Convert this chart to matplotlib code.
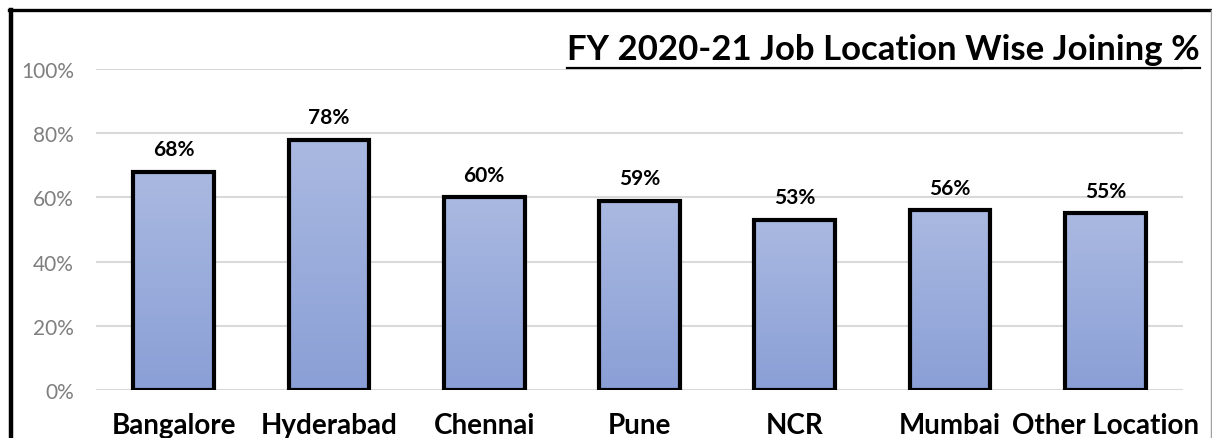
import numpy as np
import matplotlib.pyplot as plt
from matplotlib.lines import Line2D
from matplotlib.colors import LinearSegmentedColormap

plt.rcParams['font.family'] = ['Lato', 'DejaVu Sans']

# Chart data
locations = ["Bangalore", "Hyderabad", "Chennai", "Pune", "NCR", "Mumbai", "Other Location"]
joining_pct = [0.68, 0.78, 0.60, 0.59, 0.53, 0.56, 0.55]
labels = ["68%", "78%", "60%", "59%", "53%", "56%", "55%"]
yticks = [0, 0.2, 0.4, 0.6, 0.8, 1.0]
ytick_labels = ["0%", "20%", "40%", "60%", "80%", "100%"]
title = "FY 2020-21 Job Location Wise Joining %"

W, H = 1212, 439
fig = plt.figure(figsize=(W / 100, H / 100), dpi=100)
ax = fig.add_axes([96 / W, (H - 391) / H, (1183 - 96) / W, (391 - 70) / H])

x = np.arange(len(locations))
bars = ax.bar(x, joining_pct, width=0.52, facecolor='none', edgecolor='black',
              linewidth=3, zorder=3)

# vertical gradient fill, lighter at top
cmap = LinearSegmentedColormap.from_list("grad", ["#8A9FD6", "#AAB9E1"])
grad = np.linspace(0, 1, 256).reshape(-1, 1)
for b in bars:
    x0, y0 = b.get_x(), b.get_y()
    im = ax.imshow(grad, cmap=cmap, origin='lower', aspect='auto',
                   extent=[x0, x0 + b.get_width(), y0, y0 + b.get_height()], zorder=2)
    im.set_clip_path(b)

for xi, v, lab in zip(x, joining_pct, labels):
    ax.annotate(lab, (xi, v), xytext=(0, 9), textcoords='offset points',
                ha='center', va='bottom', fontsize=15, fontweight='bold')

ax.set_xlim(-0.5, len(locations) - 0.5)
ax.set_ylim(0, 1.0)
ax.set_yticks(yticks)
ax.set_yticklabels(ytick_labels, fontsize=15, color='#7F7F7F')
ax.set_xticks(x)
ax.set_xticklabels(locations, fontsize=20, fontweight='bold')
ax.tick_params(axis='both', length=0)
ax.tick_params(axis='x', pad=16)
ax.tick_params(axis='y', pad=16)
ax.grid(axis='y', color='#D9D9D9', linewidth=1.5, zorder=0)
for s in ax.spines.values():
    s.set_visible(False)
ax.set_axisbelow(True)

# title, right aligned with manual underline
t = fig.text(1200 / W, (H - 60) / H, title, ha='right', va='baseline',
             fontsize=25, fontweight='bold')
fig.canvas.draw()
bb = t.get_window_extent()
fig.add_artist(Line2D([bb.x0 / W, bb.x1 / W], [(H - 68.5) / H] * 2,
                      color='black', linewidth=1.6))

# figure border (top and left thick, right thin)
fig.add_artist(Line2D([11 / W, 11 / W], [0, (H - 10.5) / H], color='black', linewidth=3.2))
fig.add_artist(Line2D([9 / W, 1 - 1 / W], [(H - 10.5) / H] * 2, color='black', linewidth=2.4))
fig.add_artist(Line2D([1 - 1 / W, 1 - 1 / W], [0, (H - 10.5) / H], color='#A0A0A0', linewidth=1))

fig.savefig("out.png", dpi=100)
